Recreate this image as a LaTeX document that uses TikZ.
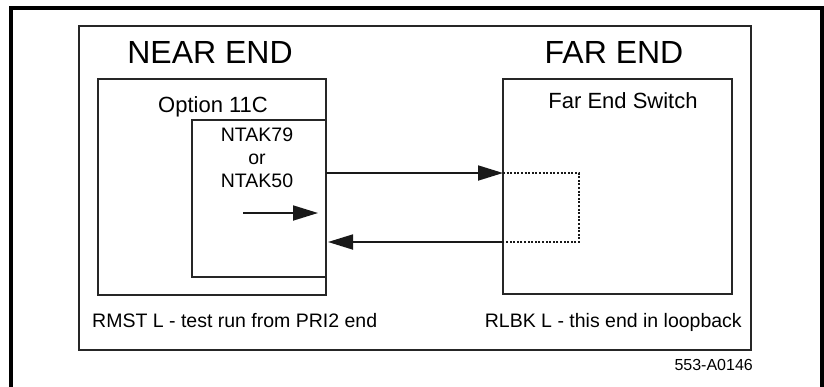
\documentclass[tikz,border=0pt]{standalone}
\usepackage{fontspec}
\setmainfont{Liberation Sans}
\usetikzlibrary{arrows.meta,positioning,calc}

\tikzset{
  box/.style={draw=black!85,line width=1.8pt,inner sep=0pt,outer sep=0pt},
  sig/.style={line width=1.8pt,draw=black!90,-{Triangle[length=25pt,width=15pt]}},
  loopline/.style={line width=2.2pt,draw=black!90,dash pattern=on 2pt off 1.6pt},
  bigtxt/.style={font=\fontsize{32}{36}\selectfont,inner sep=0pt},
  midtxt/.style={font=\fontsize{22}{26}\selectfont,inner sep=0pt},
  smalltxt/.style={font=\fontsize{19.5}{23}\selectfont,inner sep=0pt},
}

\begin{document}
\begin{tikzpicture}[x=1pt,y=-1pt]
\useasboundingbox (0,0) rectangle (824,386);

% outer frame, open at the bottom
\draw[line width=4pt] (10.5,390) -- (10.5,7.5) -- (822,7.5) -- (822,390);

% main frame
\node[box,minimum width=672pt,minimum height=324pt] (frame) at (415,188) {};
\node[bigtxt,anchor=base] (nearlbl) at (210,63) {NEAR END};
\node[bigtxt,anchor=base] (farlbl) at (614,63) {FAR END};

% near end: Option 11C with the NTAK card
\node[box,minimum width=228pt,minimum height=216pt] (opt) at (212,187) {};
\node[midtxt,anchor=base] (optlbl) at (213,112) {Option 11C};
\node[box,minimum width=134pt,minimum height=157pt] (ntak) at (259,198.5) {};
\node[smalltxt,align=center,anchor=north] (ntaklbl) at (257,128) {NTAK79\\or\\NTAK50};

% far end switch
\node[box,minimum width=229pt,minimum height=215pt] (sw) at (617.5,186.5) {};
\node[midtxt,anchor=base] (swlbl) at (623,108) {Far End Switch};

% test signal and loopback
\coordinate (lpA) at (243,213);
\coordinate (lpB) at (318,213);
\draw[sig] (lpA) -- (lpB);
\draw[sig] ([yshift=25.5pt]ntak.east) -- ([yshift=25.5pt]ntak.east -| sw.west);
\draw[loopline] ([yshift=25.5pt]ntak.east -| sw.west) -- ++(76,0) |- ([yshift=-43.5pt]ntak.east -| sw.west);
\draw[sig] ([yshift=-43.5pt]ntak.east -| sw.west) -- ([yshift=-43.5pt,xshift=2pt]ntak.east);

% commands
\node[smalltxt,anchor=base west] (rmst) at (92,327) {RMST L - test run from PRI2 end};
\node[smalltxt,anchor=base east] (rlbk) at (742,327) {RLBK L - this end in loopback};
\node[font=\fontsize{16}{19}\selectfont,inner sep=0pt,anchor=base east] (figid) at (753,370) {553-A0146};
\end{tikzpicture}
\end{document}
